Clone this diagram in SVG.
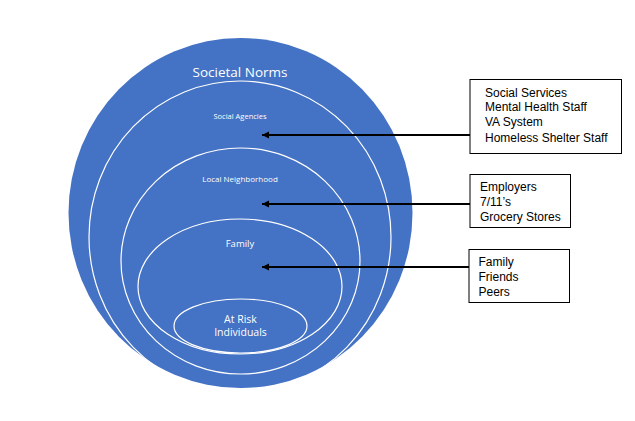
<svg xmlns="http://www.w3.org/2000/svg" width="635" height="421" viewBox="0 0 635 421">
<style>
.ring{fill:none;stroke:#ffffff;stroke-width:1.2}
.lbl{fill:#ffffff;font-family:"Open Sans","Liberation Sans",sans-serif;text-anchor:middle}
.box{fill:#ffffff;stroke:#000000;stroke-width:1}
.btxt{fill:#000000;font-family:"Liberation Sans",Arial,sans-serif;font-size:12px}
.arrow{stroke:#000000;stroke-width:2;fill:none;marker-end:url(#ah)}
</style>
<defs>
<marker id="ah" markerWidth="8" markerHeight="8" refX="7" refY="3.5" orient="auto" markerUnits="userSpaceOnUse">
<path d="M0,0 L7,3.5 L0,7 Z" fill="#000000"/>
</marker>
</defs>
<rect width="635" height="421" fill="#ffffff"/>
<g id="societal-norms">
<ellipse cx="240.5" cy="213" rx="172" ry="175" fill="#4472C4"/>
<text class="lbl" x="240" y="77" font-size="13.5">Societal Norms</text>
</g>
<g id="social-agencies">
<ellipse class="ring" cx="240" cy="237" rx="151" ry="156"/>
<text class="lbl" x="240" y="119" font-size="7.5">Social Agencies</text>
</g>
<g id="local-neighborhood">
<ellipse class="ring" cx="240.5" cy="261" rx="119.5" ry="113"/>
<text class="lbl" x="240" y="182" font-size="8">Local Neighborhood</text>
</g>
<g id="family">
<ellipse class="ring" cx="240" cy="286.5" rx="102" ry="67.5"/>
<text class="lbl" x="240" y="247" font-size="9.5">Family</text>
</g>
<g id="at-risk">
<ellipse class="ring" cx="240.5" cy="326" rx="66.5" ry="27"/>
<text class="lbl" x="240.5" y="322.5" font-size="10.5">At Risk</text>
<text class="lbl" x="240.5" y="336" font-size="10.5">Individuals</text>
</g>
<g id="connectors">
<line class="arrow" x1="470" y1="135" x2="262" y2="135"/>
<line class="arrow" x1="470" y1="204" x2="262" y2="204"/>
<line class="arrow" x1="469" y1="267" x2="262" y2="267"/>
</g>
<g id="box-agencies">
<rect class="box" x="470" y="79.5" width="151.5" height="74"/>
<text class="btxt" x="485" y="96.5">Social Services</text>
<text class="btxt" x="485" y="111">Mental Health Staff</text>
<text class="btxt" x="485" y="126">VA System</text>
<text class="btxt" x="485" y="141.5">Homeless Shelter Staff</text>
</g>
<g id="box-neighborhood">
<rect class="box" x="470" y="174.5" width="100.5" height="53"/>
<text class="btxt" x="480" y="190.5">Employers</text>
<text class="btxt" x="480" y="205.5">7/11’s</text>
<text class="btxt" x="480" y="220.5">Grocery Stores</text>
</g>
<g id="box-family">
<rect class="box" x="469" y="249.5" width="100.5" height="53"/>
<text class="btxt" x="478.5" y="265.5">Family</text>
<text class="btxt" x="478.5" y="280.5">Friends</text>
<text class="btxt" x="478.5" y="295.5">Peers</text>
</g>
</svg>
